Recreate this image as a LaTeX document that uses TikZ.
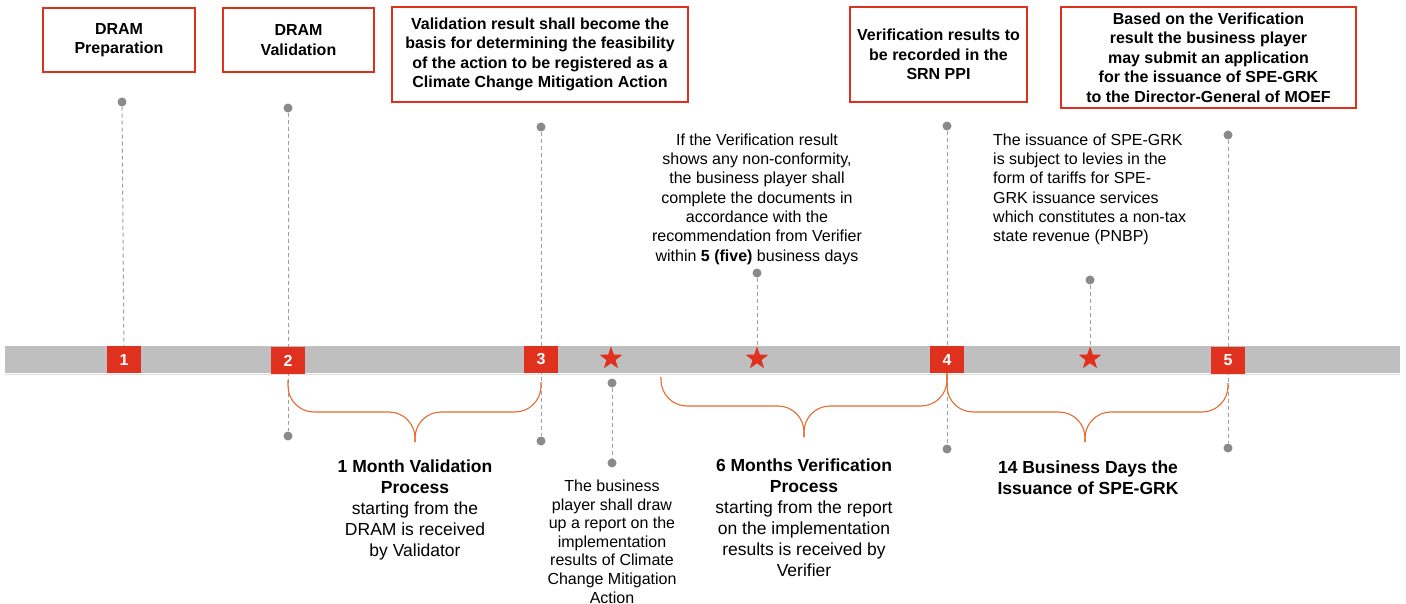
\documentclass[tikz,border=0pt]{standalone}
\usepackage{fontspec}
\setmainfont{Liberation Sans}
\usetikzlibrary{shapes.geometric}
\definecolor{pred}{RGB}{224,48,30}
\definecolor{bargray}{RGB}{191,191,191}
\definecolor{dotgray}{RGB}{138,138,138}
\definecolor{dashgray}{RGB}{160,160,160}
\definecolor{braceor}{RGB}{228,108,48}
\pgfdeclarelayer{bg}
\pgfsetlayers{bg,main}
\begin{document}
\begin{tikzpicture}[x=1pt,y=-1pt,
  topbox/.style={draw=pred, line width=2pt, fill=white, align=center, inner sep=0pt, font=\bfseries\fontsize{16}{19.5}\selectfont},
  numbox/.style={fill=pred, text=white, minimum width=34pt, minimum height=27pt, inner sep=0pt, font=\bfseries\fontsize{16}{18}\selectfont},
  dot/.style={circle, fill=dotgray, minimum size=9pt, inner sep=0pt},
  dline/.style={draw=dashgray, line width=1pt, dash pattern=on 4pt off 3pt},
  rstar/.style={star, star points=5, star point ratio=2.5, fill=pred, minimum size=24pt, inner sep=0pt},
  bracel/.style={draw=braceor, line width=1.1pt, rounded corners=26pt},
  desc/.style={align=center, font=\fontsize{16}{19.3}\selectfont, inner sep=0pt},
  big/.style={align=center, font=\fontsize{17.5}{21}\selectfont, inner sep=0pt},
]
\useasboundingbox (0,0) rectangle (1406,604);

% top boxes
\node[topbox, minimum width=152pt, minimum height=64pt] (b1) at (119,40) {DRAM\\Preparation};
\node[topbox, minimum width=151pt, minimum height=64pt] (b2) at (298.5,40) {DRAM\\Validation};
\node[topbox, minimum width=296pt, minimum height=95pt] (b3) at (540,54.5) {Validation result shall become the\\basis for determining the feasibility\\of the action to be registered as a\\Climate Change Mitigation Action};
\node[topbox, minimum width=177pt, minimum height=95pt] (b4) at (938.5,54.5) {Verification results to\\be recorded in the\\SRN PPI};
\node[topbox, minimum width=295pt, minimum height=101pt] (b5) at (1208.5,57.5) {Based on the Verification\\result the business player\\may submit an application\\for the issuance of SPE-GRK\\to the Director-General of MOEF};

% number boxes
\node[numbox] (m1) at (124,359.5) {1};
\node[numbox] (m2) at (288,360.5) {2};
\node[numbox] (m3) at (541,359.5) {3};
\node[numbox] (m4) at (947,359.5) {4};
\node[numbox] (m5) at (1228,360.5) {5};

% stars
\node[rstar] (s1) at (611,358.5) {};
\node[rstar] (s2) at (757,358.5) {};
\node[rstar] (s3) at (1090,358.5) {};

% dots
\node[dot] (d1) at (122,102) {};
\node[dot] (d2t) at (288,108) {};
\node[dot] (d2b) at (288,436) {};
\node[dot] (d3t) at (541,127) {};
\node[dot] (d3b) at (541,441) {};
\node[dot] (ds1) at (612,383) {};
\node[dot] (ds1b) at (612,463) {};
\node[dot] (ds2) at (757,273) {};
\node[dot] (d4t) at (947,126) {};
\node[dot] (d4b) at (947,449) {};
\node[dot] (ds3) at (1090,280) {};
\node[dot] (d5t) at (1228,135) {};
\node[dot] (d5b) at (1228,448) {};

\begin{pgfonlayer}{bg}
  \fill[bargray] (5,346) rectangle (1400,373);
  \draw[gray!25, line width=1pt] (5,374) -- (1400,374);
  \draw[dline] (d1) -- (m1);
  \draw[dline] (d2t) -- (d2b);
  \draw[dline] (d3t) -- (d3b);
  \draw[dline] (ds1) -- (ds1b);
  \draw[dline] (ds2) -- (s2);
  \draw[dline] (d4t) -- (d4b);
  \draw[dline] (ds3) -- (s3);
  \draw[dline] (d5t) -- (d5b);
\end{pgfonlayer}

% braces
\draw[bracel] (288,380) -- (288,412) -- (415,412) -- (415,442);
\draw[bracel] (541,382) -- (541,412) -- (415,412) -- (415,442);
\draw[bracel] (661,377) -- (661,406) -- (804,406) -- (804,437);
\draw[bracel] (947,373) -- (947,406) -- (804,406) -- (804,437);
\draw[bracel] (947,373) -- (947,412) -- (1085,412) -- (1085,442);
\draw[bracel] (1228,383) -- (1228,412) -- (1085,412) -- (1085,442);

% notes
\node[desc] (n1) at (757,199) {If the Verification result\\shows any non-conformity,\\the business player shall\\complete the documents in\\accordance with the\\recommendation from Verifier\\within \textbf{5 (five)} business days};
\node[desc, align=left, anchor=west] (n2) at (993,189.5) {The issuance of SPE-GRK\\is subject to levies in the\\form of tariffs for SPE-\\GRK issuance services\\which constitutes a non-tax\\state revenue (PNBP)};
\node[desc, font=\fontsize{16}{18.6}\selectfont] (n3) at (612,541.5) {The business\\player shall draw\\up a report on the\\implementation\\results of Climate\\Change Mitigation\\Action};
\node[big] (p1) at (415,509.5) {\textbf{1 Month Validation}\\\textbf{Process}\\starting from the\\DRAM is received\\by Validator};
\node[big] (p2) at (804,518) {\textbf{6 Months Verification}\\\textbf{Process}\\starting from the report\\on the implementation\\results is received by\\Verifier};
\node[big] (p3) at (1088,478) {\textbf{14 Business Days the}\\\textbf{Issuance of SPE-GRK}};
\end{tikzpicture}
\end{document}
